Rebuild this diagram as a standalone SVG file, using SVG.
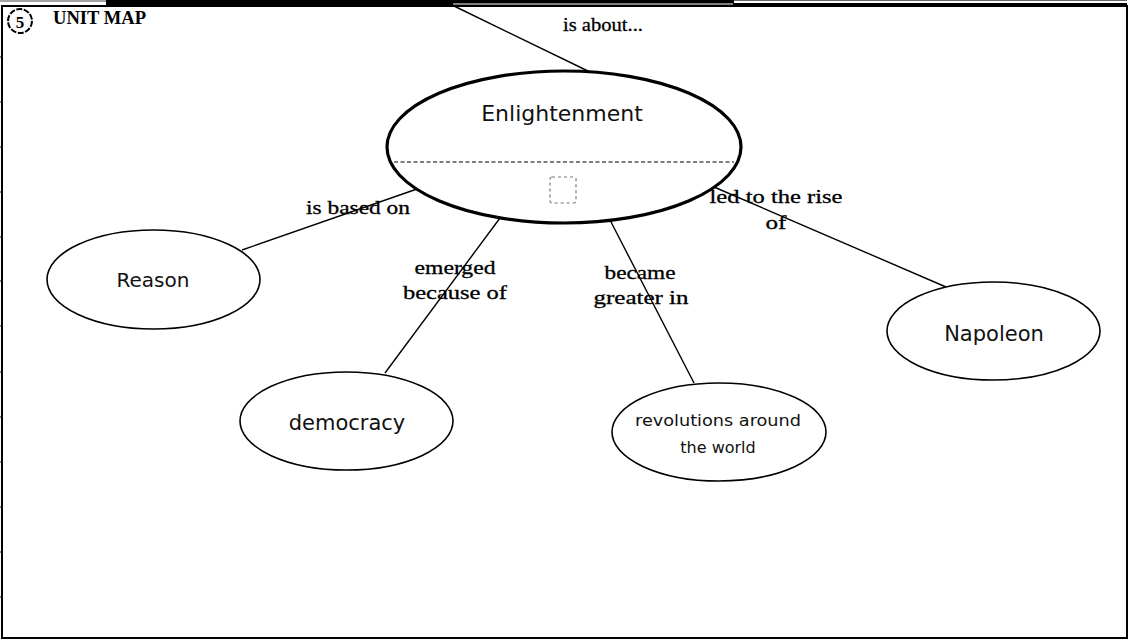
<svg xmlns="http://www.w3.org/2000/svg" width="1131" height="641" viewBox="0 0 1131 641">
<style>
.node ellipse{fill:#fff;stroke:#000;stroke-width:1.6}
.node text{font-family:"DejaVu Sans",sans-serif;fill:#111;text-anchor:middle}
.main ellipse{stroke-width:3.2}
.conn line{stroke:#000;stroke-width:1.4}
.lbl{font-family:"Liberation Serif",serif;font-size:19px;fill:#000;stroke:#000;stroke-width:0.3;text-anchor:middle}
.frame{fill:none;stroke:#000;stroke-width:2}
</style>
<rect width="1131" height="641" fill="#fff"/>
<!-- frame -->
<g id="frame">
<rect class="frame" x="2" y="6" width="1125" height="632"/>
<line x1="0" y1="1" x2="106" y2="1" stroke="#444" stroke-width="1"/>
<rect x="106" y="0" width="347" height="5" fill="#000"/>
<rect x="453" y="0" width="280" height="3.5" fill="#000"/>
<line x1="453" y1="5" x2="733" y2="5" stroke="#000" stroke-width="1"/>
<line x1="733" y1="0.5" x2="1127" y2="0.5" stroke="#666" stroke-width="1"/>
<rect x="733" y="3" width="394" height="4" fill="#000"/>
<line x1="106.5" y1="0" x2="106.5" y2="6" stroke="#000" stroke-width="1"/>
<line x1="452" y1="0" x2="452" y2="6" stroke="#000" stroke-width="2"/>
<line x1="733.5" y1="0" x2="733.5" y2="4" stroke="#000" stroke-width="1"/>
<g stroke="#000" stroke-width="1">
<line x1="0" y1="57" x2="2" y2="57"/><line x1="0" y1="102" x2="2" y2="102"/>
<line x1="0" y1="147" x2="2" y2="147"/><line x1="0" y1="192" x2="2" y2="192"/>
<line x1="0" y1="237" x2="2" y2="237"/><line x1="0" y1="281" x2="2" y2="281"/>
<line x1="0" y1="326" x2="2" y2="326"/><line x1="0" y1="372" x2="2" y2="372"/>
<line x1="0" y1="417" x2="2" y2="417"/><line x1="0" y1="462" x2="2" y2="462"/>
<line x1="0" y1="507" x2="2" y2="507"/><line x1="0" y1="552" x2="2" y2="552"/>
<line x1="0" y1="597" x2="2" y2="597"/>
</g>
</g>
<g id="title">
<circle cx="20" cy="21" r="12" fill="none" stroke="#000" stroke-width="2" stroke-dasharray="6 1.5"/>
<text x="20" y="27.5" font-family="Liberation Serif,serif" font-size="17" font-weight="bold" text-anchor="middle">5</text>
<text x="53" y="24" font-family="Liberation Serif,serif" font-size="18" font-weight="bold" textLength="93" lengthAdjust="spacingAndGlyphs">UNIT MAP</text>
</g>
<!-- connectors -->
<g id="connectors" class="conn">
<line x1="452" y1="5" x2="590" y2="72"/>
<line x1="242" y1="250" x2="417" y2="189"/>
<line x1="500" y1="218" x2="385" y2="373"/>
<line x1="610" y1="220" x2="694" y2="383"/>
<line x1="714" y1="187" x2="946" y2="287"/>
</g>
<g id="labels">
<text class="lbl" x="603" y="31" textLength="80" lengthAdjust="spacingAndGlyphs">is about...</text>
<text class="lbl" x="358" y="214" textLength="104" lengthAdjust="spacingAndGlyphs">is based on</text>
<text class="lbl" x="455" y="274" textLength="81" lengthAdjust="spacingAndGlyphs">emerged</text>
<text class="lbl" x="455" y="299" textLength="104" lengthAdjust="spacingAndGlyphs">because of</text>
<text class="lbl" x="640" y="279" textLength="71" lengthAdjust="spacingAndGlyphs">became</text>
<text class="lbl" x="641" y="304" textLength="95" lengthAdjust="spacingAndGlyphs">greater in</text>
<text class="lbl" x="776" y="203" textLength="133" lengthAdjust="spacingAndGlyphs">led to the rise</text>
<text class="lbl" x="776" y="229" textLength="21" lengthAdjust="spacingAndGlyphs">of</text>
</g>
<!-- nodes -->
<g id="enlightenment" class="node main">
<ellipse cx="564" cy="147" rx="177" ry="76"/>
<line x1="394" y1="162" x2="734" y2="162" stroke="#000" stroke-width="1.2" stroke-dasharray="4 2.5"/>
<rect x="550" y="177" width="26" height="26" rx="2" fill="none" stroke="#777" stroke-width="1.2" stroke-dasharray="3 3"/>
<text x="562" y="121" font-size="22">Enlightenment</text>
</g>
<g id="reason" class="node">
<ellipse cx="153.5" cy="279.5" rx="106.5" ry="49.5"/>
<text x="153" y="287" font-size="20">Reason</text>
</g>
<g id="democracy" class="node">
<ellipse cx="346.5" cy="421" rx="106.5" ry="49"/>
<text x="347" y="430" font-size="21">democracy</text>
</g>
<g id="revolutions" class="node">
<ellipse cx="719" cy="432" rx="107" ry="49"/>
<text x="718" y="426" font-size="16" textLength="166" lengthAdjust="spacingAndGlyphs">revolutions around</text>
<text x="718" y="453" font-size="16">the world</text>
</g>
<g id="napoleon" class="node">
<ellipse cx="993.5" cy="331" rx="106.5" ry="49"/>
<text x="994" y="341" font-size="21">Napoleon</text>
</g>
</svg>
